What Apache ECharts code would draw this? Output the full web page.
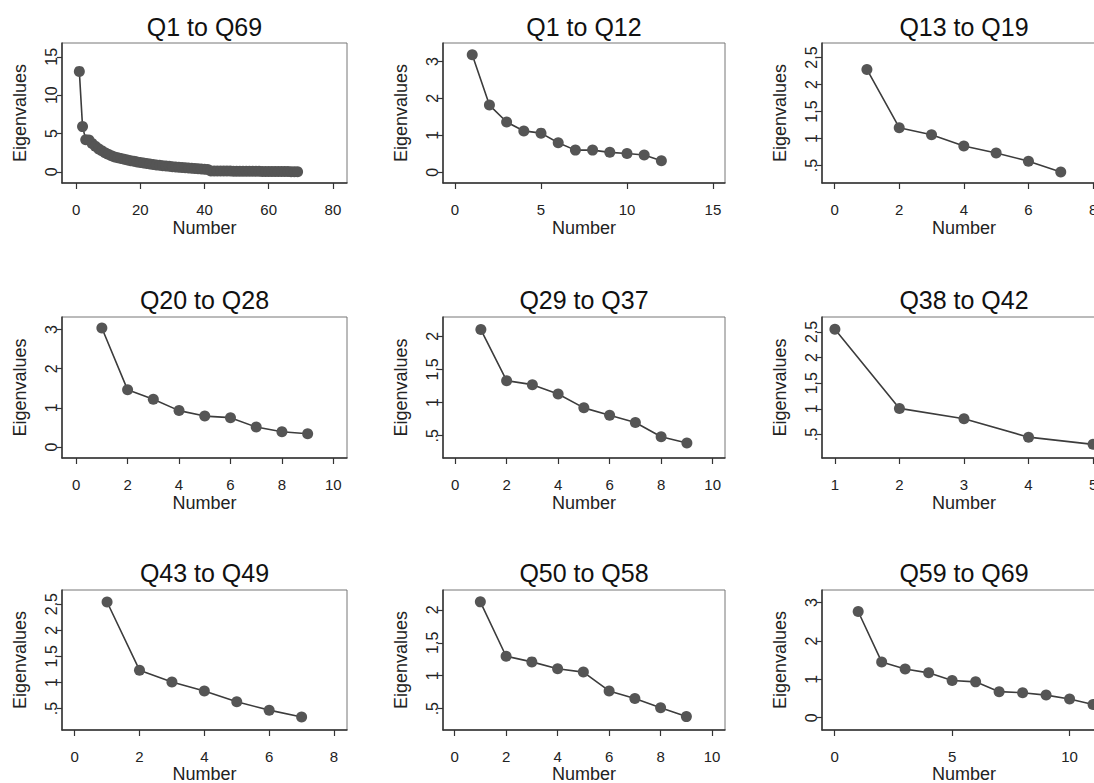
<!DOCTYPE html>
<html lang="en">
<head>
<meta charset="UTF-8">
<title>Scree plots</title>
<script src="https://cdn.jsdelivr.net/npm/echarts@6/dist/echarts.min.js"></script>
<style>
  html, body { margin: 0; padding: 0; background: #fff; }
  #chart { width: 1094px; height: 783px; }
</style>
</head>
<body>
<div id="chart"></div>
<script>
// panel titles
var titles = ['Q1 to Q69', 'Q1 to Q12', 'Q13 to Q19', 'Q20 to Q28', 'Q29 to Q37',
  'Q38 to Q42', 'Q43 to Q49', 'Q50 to Q58', 'Q59 to Q69'];

// eigenvalues (x = 1, 2, 3 ...)
var q1to69 = [13.1, 5.9, 4.2, 4.15, 3.7, 3.35, 3.0, 2.75, 2.5, 2.3,
  2.1, 1.95, 1.85, 1.75, 1.65, 1.55, 1.45, 1.4, 1.3, 1.22,
  1.15, 1.08, 1.02, 0.96, 0.9, 0.85, 0.8, 0.76, 0.72, 0.68,
  0.64, 0.6, 0.56, 0.53, 0.5, 0.47, 0.44, 0.41, 0.38, 0.35,
  0.3, 0.12, 0.12, 0.11, 0.11, 0.1, 0.1, 0.1, 0.09, 0.09,
  0.09, 0.08, 0.08, 0.08, 0.07, 0.07, 0.07, 0.06, 0.06, 0.06,
  0.05, 0.05, 0.05, 0.04, 0.04, 0.04, 0.03, 0.03, 0.02];
var q1to12 = [3.18, 1.82, 1.36, 1.12, 1.06, 0.80, 0.60, 0.60, 0.54, 0.51, 0.47, 0.31];
var q13to19 = [2.28, 1.20, 1.07, 0.86, 0.73, 0.58, 0.38];
var q20to28 = [3.04, 1.46, 1.22, 0.93, 0.79, 0.75, 0.51, 0.39, 0.34];
var q29to37 = [2.10, 1.33, 1.27, 1.13, 0.92, 0.81, 0.70, 0.485, 0.39];
var q38to42 = [2.55, 1.01, 0.81, 0.45, 0.31];
var q43to49 = [2.54, 1.235, 1.01, 0.835, 0.63, 0.47, 0.34];
var q50to58 = [2.12, 1.295, 1.21, 1.105, 1.055, 0.77, 0.655, 0.515, 0.38];
var q59to69 = [2.77, 1.455, 1.27, 1.17, 0.97, 0.935, 0.68, 0.65, 0.59, 0.49, 0.345];

// tick labels
var xTicks = [[0, 20, 40, 60, 80], [0, 5, 10, 15], [0, 2, 4, 6, 8], [0, 2, 4, 6, 8, 10],
  [0, 2, 4, 6, 8, 10], [1, 2, 3, 4, 5], [0, 2, 4, 6, 8], [0, 2, 4, 6, 8, 10], [0, 5, 10]];
var yTicks = [[0, 5, 10, 15], [0, 1, 2, 3], [0.5, 1, 1.5, 2, 2.5], [0, 1, 2, 3],
  [0.5, 1, 1.5, 2], [0.5, 1, 1.5, 2, 2.5], [0.5, 1, 1.5, 2, 2.5], [0.5, 1, 1.5, 2], [0, 1, 2, 3]];

var allData = [q1to69, q1to12, q13to19, q20to28, q29to37, q38to42, q43to49, q50to58, q59to69];

// axis extents (plot region padding like Stata)
var xRange = [[-4.4, 84.4], [-0.7, 15.7], [-0.39, 8.4], [-0.55, 10.53], [-0.47, 10.48],
  [0.8, 5.2], [-0.39, 8.4], [-0.45, 10.5], [-0.54, 11.55]];
var yRange = [[-1.45, 16.8], [-0.29, 3.5], [0.175, 2.77], [-0.28, 3.32], [0.164, 2.29],
  [0.044, 2.79], [0.09, 2.77], [0.177, 2.30], [-0.32, 3.33]];

// layout
var colLeft = [62, 443, 822];
var colWidth = [285, 282, 284];
var rowTop = [43, 317, 590];
var rowHeight = [140, 141, 140];
var titleY = [27, 300, 573];
var numberGap = [36, 36, 33];

var FONT = '"Liberation Sans", Arial, Helvetica, sans-serif';
var INK = '#222';

function fmtY(v) {
  var s = String(v);
  return (v > 0 && v < 1) ? s.slice(1) : s;
}

var grids = [], xAxes = [], yAxes = [], series = [], graphics = [];

allData.forEach(function (vals, i) {
  var r = Math.floor(i / 3), c = i % 3;
  grids.push({
    left: colLeft[c], top: rowTop[r], width: colWidth[c], height: rowHeight[r],
    outerBoundsMode: 'none', containLabel: false,
    show: true, borderColor: '#777', borderWidth: 1, backgroundColor: '#fff'
  });
  xAxes.push({
    type: 'value', gridIndex: i, min: xRange[i][0], max: xRange[i][1],
    name: 'Number', nameLocation: 'middle', nameGap: numberGap[r],
    nameTextStyle: { fontSize: 18, color: INK, fontFamily: FONT, lineHeight: 18 },
    axisLine: { show: true, onZero: false, lineStyle: { color: '#333', width: 1.5 } },
    axisTick: { show: true, length: 6, customValues: xTicks[i], lineStyle: { color: '#333', width: 1.2 } },
    axisLabel: { customValues: xTicks[i], margin: 19, fontSize: 15, lineHeight: 15, color: INK, fontFamily: FONT },
    splitLine: { show: false }
  });
  yAxes.push({
    type: 'value', gridIndex: i, min: yRange[i][0], max: yRange[i][1],
    name: 'Eigenvalues', nameLocation: 'middle', nameGap: 33, nameRotate: 90,
    nameTextStyle: { fontSize: 18, color: INK, fontFamily: FONT, lineHeight: 18 },
    axisLine: { show: true, onZero: false, lineStyle: { color: '#333', width: 1.5 } },
    axisTick: { show: true, length: 5, customValues: yTicks[i], lineStyle: { color: '#333', width: 1.2 } },
    axisLabel: { customValues: yTicks[i], rotate: 90, margin: 3, fontSize: 16, lineHeight: 16,
      color: INK, fontFamily: FONT, formatter: fmtY },
    splitLine: { show: false }
  });
  series.push({
    type: 'line', xAxisIndex: i, yAxisIndex: i,
    data: vals.map(function (v, k) { return [k + 1, v]; }),
    symbol: 'circle', symbolSize: 11, showAllSymbol: true,
    itemStyle: { color: '#555' },
    lineStyle: { color: '#3c3c3c', width: 1.6 },
    emphasis: { disabled: true }
  });
  graphics.push({
    type: 'text',
    x: colLeft[c] + colWidth[c] / 2, y: titleY[r],
    style: { text: titles[i], fontSize: 25, fontFamily: FONT, fill: '#111',
      align: 'center', verticalAlign: 'middle' }
  });
});

var chart = echarts.init(document.getElementById('chart'), null, { renderer: 'svg' });
chart.setOption({
  animation: false,
  backgroundColor: '#fff',
  grid: grids,
  xAxis: xAxes,
  yAxis: yAxes,
  series: series,
  graphic: graphics
});
</script>
</body>
</html>
